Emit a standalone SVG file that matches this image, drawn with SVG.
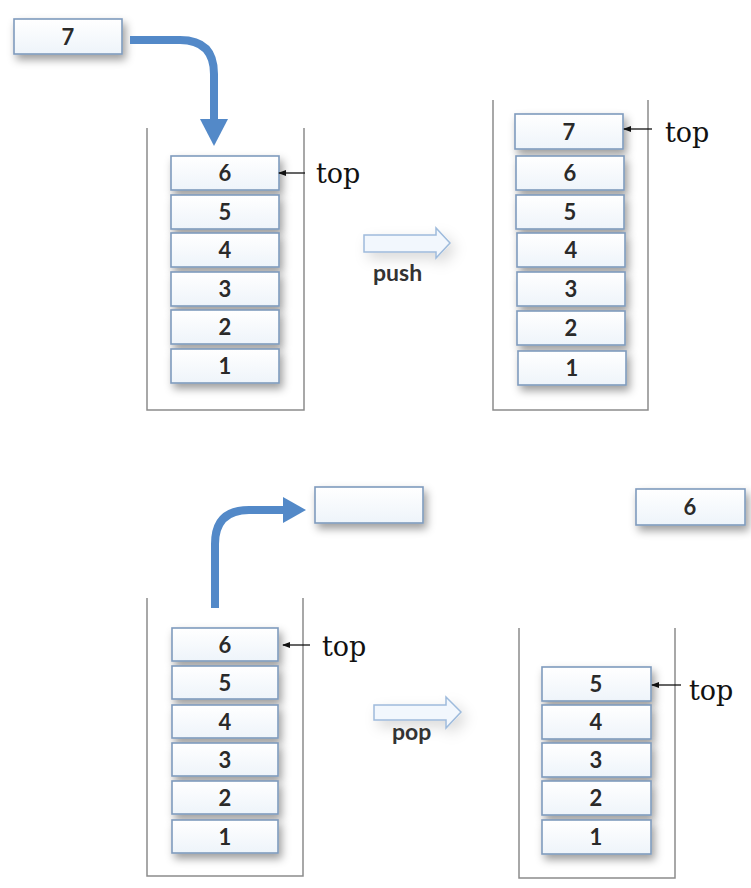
<svg xmlns="http://www.w3.org/2000/svg" width="751" height="888" viewBox="0 0 751 888">
<defs>
<linearGradient id="bx" x1="0" y1="0" x2="0" y2="1">
<stop offset="0" stop-color="#ffffff"/>
<stop offset="1" stop-color="#eef4fa"/>
</linearGradient>
<filter id="sh" x="-30%" y="-40%" width="170%" height="220%">
<feDropShadow dx="3" dy="5" stdDeviation="4" flood-color="#000" flood-opacity="0.38"/>
</filter>
<filter id="csh" x="-50%" y="-100%" width="200%" height="300%">
<feDropShadow dx="5" dy="6" stdDeviation="7" flood-color="#000" flood-opacity="0.15"/>
</filter>
<marker id="ah" markerWidth="8" markerHeight="6" refX="7" refY="3" orient="auto" markerUnits="userSpaceOnUse">
<path d="M0,0 L8,3 L0,6 Z" fill="#111"/>
</marker>
<style>
.box{fill:url(#bx);stroke:#7f9bbd;stroke-width:1.6;filter:url(#sh)}
.num{font-family:Lato,"Open Sans","Liberation Sans",sans-serif;font-size:22px;font-weight:bold;fill:#2a2a2a;text-anchor:middle}
.cont{fill:none;stroke:#8c8c8c;stroke-width:1.5}
.top{font-family:"DejaVu Serif","Liberation Serif",serif;font-size:27px;fill:#111}
.tarr{stroke:#111;stroke-width:1.3;fill:none;marker-end:url(#ah)}
.blue{fill:none;stroke:#5389c8;stroke-width:8}
.bhead{fill:#5389c8}
.hollow{fill:#f2f7fd;stroke:#9ebbdc;stroke-width:1.5;filter:url(#csh)}
.lbl{font-family:Lato,"Open Sans","Liberation Sans",sans-serif;font-size:23px;font-weight:bold;fill:#333}
</style>
</defs>
<rect width="751" height="888" fill="#ffffff"/>

<g id="containers">
<path class="cont" d="M147,128 V410 H304 V128"/>
<path class="cont" d="M493,100 V410 H648 V100"/>
<path class="cont" d="M147,598 V876 H303 V598"/>
<path class="cont" d="M519,628 V878 H675 V628"/>
</g>

<g id="node-push-in">
<rect class="box" x="14" y="19" width="108" height="35"/>
<text class="num" x="68" y="45">7</text>
</g>

<g id="stack1">
<rect class="box" x="171" y="156" width="108" height="34"/><text class="num" x="225" y="181">6</text>
<rect class="box" x="171" y="195" width="108" height="34"/><text class="num" x="225" y="220">5</text>
<rect class="box" x="171" y="233" width="108" height="34"/><text class="num" x="225" y="258">4</text>
<rect class="box" x="171" y="272" width="108" height="34"/><text class="num" x="225" y="297">3</text>
<rect class="box" x="171" y="310" width="108" height="34"/><text class="num" x="225" y="335">2</text>
<rect class="box" x="171" y="349" width="108" height="34"/><text class="num" x="225" y="374">1</text>
<text class="top" x="316" y="183">top</text>
</g>

<g id="stack2">
<rect class="box" x="515" y="114" width="108" height="35"/><text class="num" x="569" y="140">7</text>
<rect class="box" x="516" y="156" width="108" height="34"/><text class="num" x="570" y="181">6</text>
<rect class="box" x="516" y="195" width="108" height="34"/><text class="num" x="570" y="220">5</text>
<rect class="box" x="517" y="233" width="108" height="34"/><text class="num" x="571" y="258">4</text>
<rect class="box" x="517" y="272" width="108" height="34"/><text class="num" x="571" y="297">3</text>
<rect class="box" x="517" y="311" width="108" height="34"/><text class="num" x="571" y="336">2</text>
<rect class="box" x="518" y="351" width="108" height="34"/><text class="num" x="572" y="376">1</text>
<text class="top" x="665" y="142">top</text>
</g>

<g id="node-pop-out">
<rect class="box" x="315" y="487" width="108" height="36"/>
</g>

<g id="stack3">
<rect class="box" x="172" y="628" width="106" height="33"/><text class="num" x="225" y="653">6</text>
<rect class="box" x="172" y="666" width="106" height="33"/><text class="num" x="225" y="691">5</text>
<rect class="box" x="172" y="705" width="106" height="33"/><text class="num" x="225" y="730">4</text>
<rect class="box" x="172" y="743" width="106" height="33"/><text class="num" x="225" y="768">3</text>
<rect class="box" x="172" y="781" width="106" height="33"/><text class="num" x="225" y="806">2</text>
<rect class="box" x="172" y="820" width="106" height="33"/><text class="num" x="225" y="845">1</text>
<text class="top" x="322" y="656">top</text>
</g>

<g id="node-popped">
<rect class="box" x="636" y="489" width="109" height="36"/>
<text class="num" x="690" y="515">6</text>
</g>

<g id="stack4">
<rect class="box" x="542" y="667" width="109" height="34"/><text class="num" x="596" y="692">5</text>
<rect class="box" x="542" y="705" width="109" height="34"/><text class="num" x="596" y="730">4</text>
<rect class="box" x="542" y="743" width="109" height="34"/><text class="num" x="596" y="768">3</text>
<rect class="box" x="542" y="781" width="109" height="34"/><text class="num" x="596" y="806">2</text>
<rect class="box" x="542" y="820" width="109" height="34"/><text class="num" x="596" y="845">1</text>
<text class="top" x="689" y="700">top</text>
</g>

<g id="connectors">
<path class="blue" d="M130,40 H180 Q214,40 214,74 V122"/>
<polygon class="bhead" points="200,119 228,119 214,146"/>
<path class="blue" d="M215,608 V544 Q215,510 249,510 H285"/>
<polygon class="bhead" points="283,497 306,510 283,523"/>
<line class="tarr" x1="305" y1="173" x2="279" y2="173"/>
<line class="tarr" x1="652" y1="129" x2="624" y2="129"/>
<line class="tarr" x1="310" y1="645" x2="283" y2="645"/>
<line class="tarr" x1="681" y1="685" x2="652" y2="685"/>
<polygon class="hollow" points="364,235 436,235 436,228 450,243 436,258 436,252 364,252"/>
<text class="lbl" x="373" y="281">push</text>
<polygon class="hollow" points="374,705 446,705 446,697 461,712 446,728 446,720 374,720"/>
<text class="lbl" x="392" y="740">pop</text>
</g>
</svg>
